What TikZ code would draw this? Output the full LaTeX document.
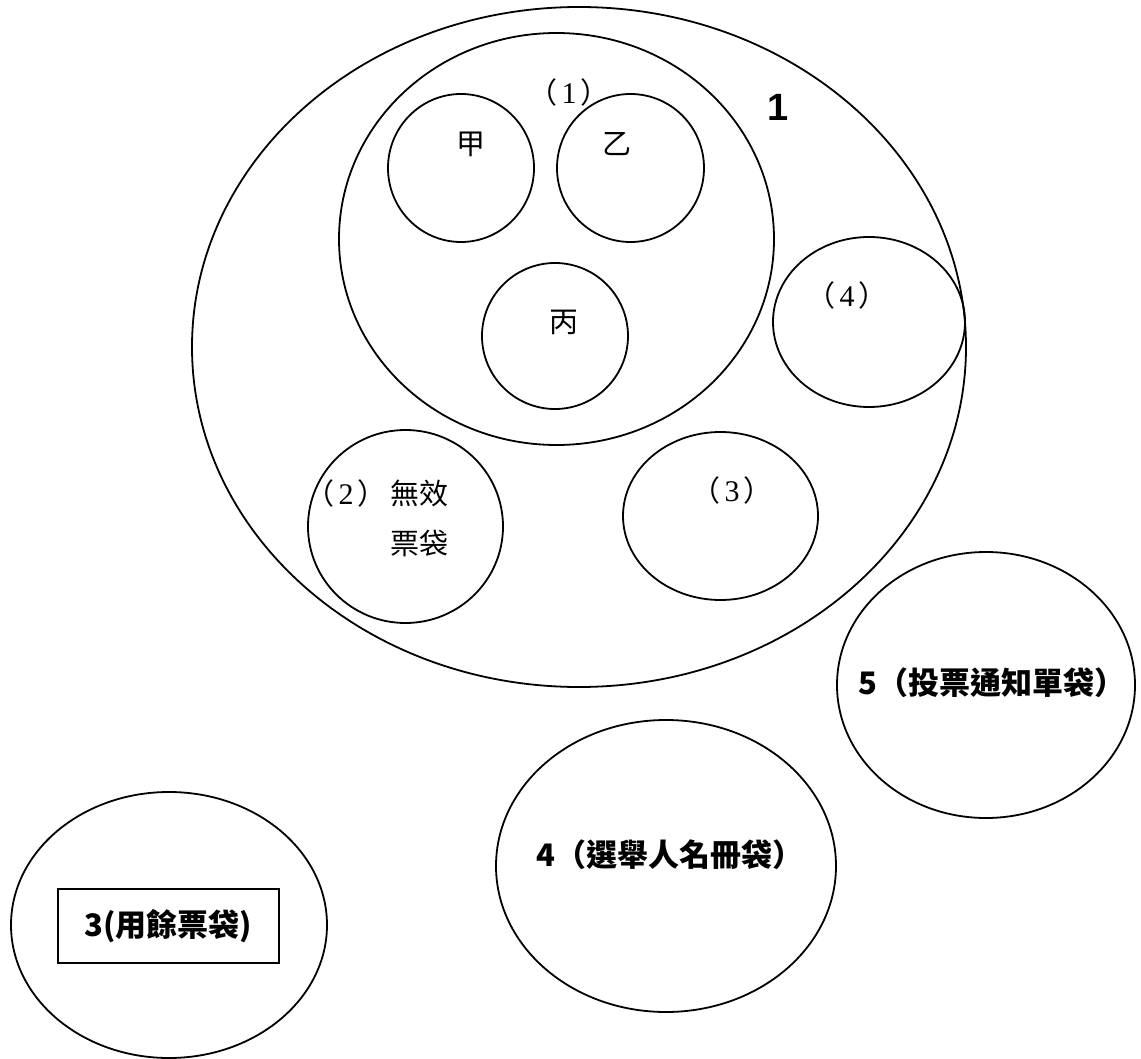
\documentclass[tikz,border=0pt]{standalone}
\usepackage{fontspec}
\setmainfont{Liberation Serif}
\newfontfamily\cjk{Noto Sans CJK TC}
\newfontfamily\headsans{Liberation Sans}
\newcommand\pnum[1]{（\hspace{2pt}{\rmfamily\fontsize{15}{25}\selectfont #1}\hspace{2pt}）}
\tikzset{
  bag/.style={line width=0.9pt},
  inlabel/.style={inner sep=0pt, font=\fontsize{14.5}{25}\selectfont\cjk},
  baglabel/.style={inner sep=0pt, font=\fontsize{15.5}{18}\selectfont\cjk\bfseries},
}

\begin{document}
\begin{tikzpicture}[x=0.5pt, y=-0.5pt]
            \useasboundingbox (0,0) rectangle (1141,1059);
            % bag 1 and what goes in it
            \draw[bag] ( 579.0, 347.0) ellipse (387.0 and 340.0);
            \draw[bag] ( 556.5, 239.0) ellipse (217.5 and 206.0);
            \draw[bag] ( 461.0, 168.0) ellipse ( 73.0 and  74.0);
            \draw[bag] ( 630.5, 168.0) ellipse ( 73.5 and  74.0);
            \draw[bag] ( 555.0, 336.0) ellipse ( 73.0 and  73.0);
            \draw[bag] ( 869.0, 322.0) ellipse ( 96.0 and  85.0);
            \draw[bag] ( 405.5, 526.5) ellipse ( 97.5 and  96.5);
            \draw[bag] ( 720.5, 516.0) ellipse ( 97.5 and  84.0);
            % the other bags
            \draw[bag] ( 986.0, 685.0) ellipse (149.0 and 133.0);
            \draw[bag] ( 666.0, 866.0) ellipse (170.0 and 146.0);
            \draw[bag] ( 169.0, 925.0) ellipse (158.0 and 133.0);
            \node[inlabel] (jia)  at (471, 144) {甲};
            \node[inlabel] (yi)   at (617, 144) {乙};
            \node[inlabel] (bing) at (564, 322) {丙};
            \node[inlabel] (in1)  at (569,  92) {\pnum{1}};
            \node[inner sep=0pt, font=\fontsize{19}{22}\selectfont\headsans\bfseries] (one) at (778, 107) {1};
            \node[inlabel, align=right, anchor=east] (in2) at (449, 518) {\pnum{2}\hspace{2pt}無效\\票袋};
            \node[inlabel] (in3)  at (732, 490) {\pnum{3}};
            \node[inlabel] (in4)  at (847, 295) {\pnum{4}};
            \node[baglabel] (bag5) at (992, 683) {5（投票通知單袋）};
            \node[baglabel] (bag4) at (670, 855) {4（選舉人名冊袋）};
            \node[baglabel, draw, line width=0.9pt, minimum width=110.5pt, minimum height=37pt] (bag3) at (168.5, 926) {3(用餘票袋)};
        \end{tikzpicture}
\end{document}
